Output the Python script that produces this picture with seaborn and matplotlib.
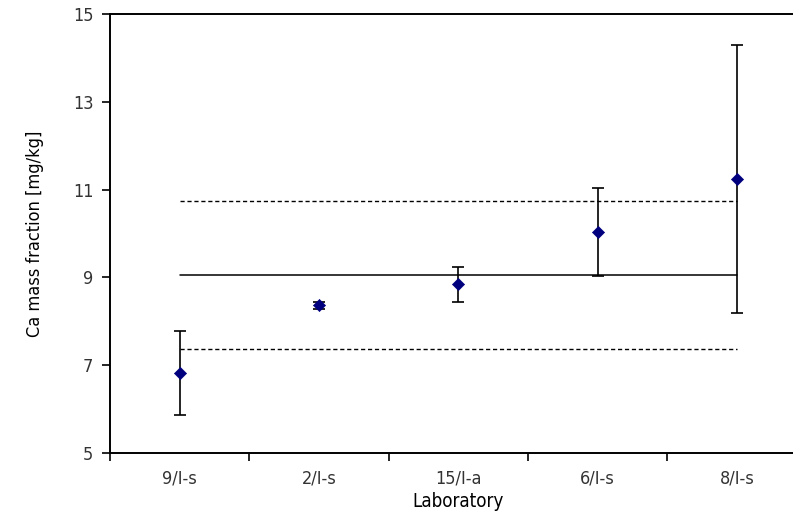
import numpy as np
import pandas as pd
import matplotlib
matplotlib.use("Agg")
import matplotlib.pyplot as plt
import seaborn as sns

labs = ["9/I-s", "2/I-s", "15/I-a", "6/I-s", "8/I-s"]
values = [6.82, 8.36, 8.84, 10.04, 11.24]
uncert = [0.95, 0.07, 0.40, 1.00, 3.06]
ref_mean = 9.05
ref_unc = 1.68

sns.set_style("white")
plt.rcParams['font.family'] = ['DejaVu Sans']
plt.rcParams['font.stretch'] = 'condensed'

df = pd.DataFrame({"Laboratory": labs, "Ca": values, "U": uncert})

fig = plt.figure(figsize=(7.93, 5.17), dpi=100)
ax = fig.add_axes([110 / 793, 64 / 517, 696.75 / 793, 439 / 517])

pos = np.arange(len(labs))
ax.errorbar(pos, df["Ca"], yerr=df["U"], fmt="none", ecolor="black",
            elinewidth=1.2, capsize=4, capthick=1.2, zorder=2)
sns.scatterplot(data=df, x="Laboratory", y="Ca", marker="D", s=38,
                color="#00007f", edgecolor="#00007f", ax=ax, zorder=3)

ax.plot([pos[0], pos[-1]], [ref_mean, ref_mean], color="black", lw=1.1, zorder=1)
for k in (-1, 1):
    ax.plot([pos[0], pos[-1]], [ref_mean + k * ref_unc] * 2, color="black",
            lw=1.0, ls=(0, (3, 2)), zorder=1)

ax.set_xlim(-0.5, 4.5)
ax.set_ylim(5, 15)
ax.set_yticks([5, 7, 9, 11, 13, 15])
ax.set_xticks(pos)
ax.set_xticklabels(labs)
ax.set_xticks(np.arange(-0.5, 5.0, 1.0), minor=True)
ax.tick_params(axis="x", which="major", length=0, pad=12, labelsize=13, labelcolor="#333333")
ax.tick_params(axis="x", which="minor", length=6, width=1.2, direction="out", color="black")
ax.tick_params(axis="y", length=6, width=1.2, direction="out", color="black",
               labelsize=13, labelcolor="#333333", pad=6)
ax.yaxis.set_ticks_position("left")
ax.xaxis.set_ticks_position("bottom")
ax.xaxis.set_tick_params(which="minor", bottom=True)

for side in ["left", "bottom", "top"]:
    ax.spines[side].set_color("black")
    ax.spines[side].set_linewidth(1.4)
ax.spines["right"].set_visible(False)

ax.set_xlabel("Laboratory", fontsize=13.5, labelpad=3, color="black")
ax.set_ylabel("Ca mass fraction [mg/kg]", fontsize=13, labelpad=21, color="black")

fig.savefig("out.png", dpi=100)
